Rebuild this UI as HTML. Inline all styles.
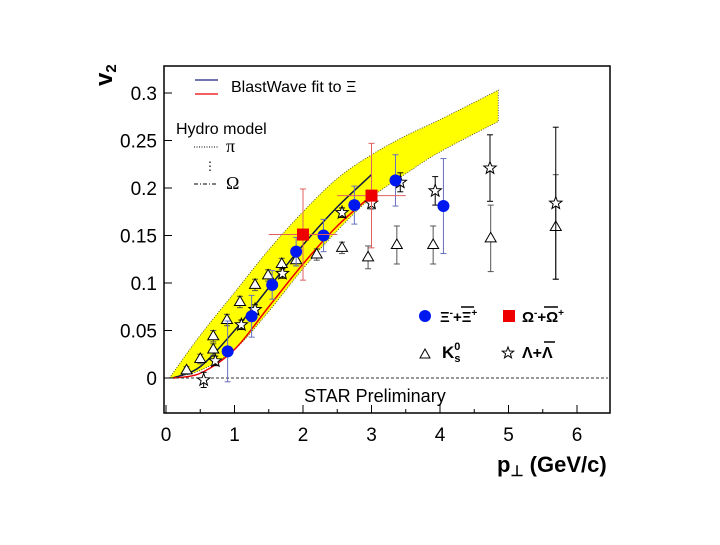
<!DOCTYPE html>
<html><head><meta charset="utf-8"><style>
body{margin:0;background:#fff;width:720px;height:540px;overflow:hidden;font-family:"Liberation Sans",sans-serif}
</style></head><body>
<svg id="c" width="720" height="540" xmlns="http://www.w3.org/2000/svg" font-family="Liberation Sans, sans-serif">
<rect x="164" y="66" width="446" height="347" fill="none" stroke="#000" stroke-width="1.5"/>
<g id="band"></g><g id="lines"></g><g id="pts"></g><g id="axes"></g>
<text x="92" y="90" font-size="24" font-weight="bold" transform="rotate(-90 100 78)">v<tspan font-size="15" dy="4">2</tspan></text>
<text x="497" y="472" font-size="22" font-weight="bold">p<tspan font-size="15" dy="4">⊥</tspan><tspan dy="-4"> (GeV/c)</tspan></text>
<g>
<line x1="195" y1="80" x2="218" y2="80" stroke="#1a237e" stroke-width="1.3"/>
<line x1="195" y1="94" x2="218" y2="94" stroke="#e00" stroke-width="1.3"/>
<text x="231" y="92" font-size="16">BlastWave fit to Ξ</text></g>
<g>
<text x="176" y="134" font-size="16">Hydro model</text>
<line x1="194" y1="147" x2="218" y2="147" stroke="#000" stroke-dasharray="1,1.5"/>
<text x="226" y="152" font-size="18" font-family="Liberation Serif, serif">π</text>
<text x="204" y="170" font-size="12">⋮</text>
<line x1="194" y1="184" x2="218" y2="184" stroke="#000" stroke-dasharray="4,2,1,2"/>
<text x="226" y="189" font-size="18" font-family="Liberation Serif, serif">Ω</text></g>
<g>
<circle cx="425" cy="316" r="6" fill="#0018f0"/>
<text x="440" y="322" font-size="15" font-weight="bold">Ξ<tspan font-size="10" dy="-6">-</tspan><tspan dy="6">+Ξ</tspan><tspan font-size="10" dy="-6">+</tspan></text>
<line x1="461" y1="307" x2="474" y2="307" stroke="#000" stroke-width="1.5"/>
<rect x="503" y="310" width="12" height="12" fill="#e00"/>
<text x="522" y="322" font-size="15" font-weight="bold">Ω<tspan font-size="10" dy="-6">-</tspan><tspan dy="6">+Ω</tspan><tspan font-size="10" dy="-6">+</tspan></text>
<line x1="544" y1="307" x2="558" y2="307" stroke="#000" stroke-width="1.5"/>
<path d="M425,349 l5,9 h-10z" fill="#fff" stroke="#000"/>
<text x="442" y="358" font-size="17" font-weight="bold">K<tspan font-size="11" dy="-8">0</tspan><tspan font-size="11" dx="-6" dy="12">s</tspan></text>
<path id="legstar" fill="#fff" stroke="#000"/>
<text x="522" y="358" font-size="16" font-weight="bold">Λ+Λ</text>
<line x1="544" y1="342" x2="555" y2="342" stroke="#000" stroke-width="1.5"/></g>
<text x="304" y="402" font-size="18">STAR Preliminary</text>
</svg>
<script>
const xTicks=[0,1,2,3,4,5,6];
const yTicks=[0,0.05,0.1,0.15,0.2,0.25,0.3];
const yTickLabels=["0","0.05","0.1","0.15","0.2","0.25","0.3"];
const bandP=[0.05,0.5,1,1.5,2,2.5,3,3.5,4,4.85];
const bandUpper=[0,0.045,0.09,0.135,0.175,0.21,0.235,0.255,0.272,0.303];
const bandLower=[0,0.008,0.03,0.07,0.115,0.155,0.19,0.215,0.238,0.27];
const bwP=[0.1,0.5,1,1.5,2,2.5,3];
const bwBlue=[0,0.012,0.05,0.095,0.14,0.18,0.214];
const bwRed=[0,0.005,0.03,0.075,0.12,0.16,0.192];
const xiP=[0.9,1.25,1.55,1.9,2.3,2.75,3.35,4.05];
const xiV=[0.028,0.065,0.098,0.133,0.15,0.182,0.208,0.181];
const xiE=[0.032,0.022,0.015,0.015,0.017,0.02,0.027,0.05];
const omP=[2.0,3.0];
const omV=[0.151,0.192];
const omE=[0.048,0.055];
const k0P=[0.3,0.5,0.69,0.69,0.89,1.08,1.3,1.49,1.69,1.9,2.2,2.57,2.95,3.37,3.9,4.74,5.69];
const k0V=[0.008,0.02,0.03,0.044,0.061,0.08,0.098,0.108,0.12,0.124,0.13,0.137,0.127,0.14,0.14,0.147,0.159];
const k0E=[0.004,0.005,0.006,0.006,0.006,0.006,0.006,0.006,0.006,0.006,0.006,0.006,0.012,0.02,0.02,0.035,0.055];
const laP=[0.55,0.72,1.1,1.3,1.7,2.57,3.0,3.42,3.93,4.73,5.69];
const laV=[-0.002,0.018,0.056,0.072,0.11,0.174,0.184,0.206,0.197,0.221,0.184];
const laE=[0.008,0.005,0.005,0.005,0.005,0.005,0.006,0.01,0.015,0.035,0.08];
const X=p=>166+68.5*p, Y=v=>378-950*v;
const NS="http://www.w3.org/2000/svg";
function mk(t,a,parent){const e=document.createElementNS(NS,t);for(const k in a)e.setAttribute(k,a[k]);(parent.appendChild?parent:document.getElementById(parent)).appendChild(e);return e;}
function smooth(pts){let d="";for(let i=0;i<pts.length-1;i++){const p0=pts[Math.max(i-1,0)],p1=pts[i],p2=pts[i+1],p3=pts[Math.min(i+2,pts.length-1)];
if(i===0)d+="M"+p1[0]+","+p1[1];
d+=`C${p1[0]+(p2[0]-p0[0])/6},${p1[1]+(p2[1]-p0[1])/6} ${p2[0]-(p3[0]-p1[0])/6},${p2[1]-(p3[1]-p1[1])/6} ${p2[0]},${p2[1]}`;}return d;}
function starPath(cx,cy,R){let d="";for(let k=0;k<10;k++){const r=k%2?R*0.42:R,a=-Math.PI/2+k*Math.PI/5;d+=(k?"L":"M")+(cx+r*Math.cos(a)).toFixed(2)+","+(cy+r*Math.sin(a)).toFixed(2);}return d+"Z";}
document.getElementById("legstar").setAttribute("d",starPath(508,353,6));
const up=bandP.map((p,i)=>[X(p),Y(bandUpper[i])]);
const lo=bandP.map((p,i)=>[X(p),Y(bandLower[i])]).reverse();
let d=smooth(up)+"L"+smooth(lo).slice(1)+"Z";
let b=mk("path",{d:d,fill:"#ffff00",stroke:"#333","stroke-width":0.8,"stroke-dasharray":"1,1.5"},"band");


let l1=mk("path",{d:smooth(bwP.map((p,i)=>[X(p),Y(bwBlue[i])])),fill:"none",stroke:"#111a40","stroke-width":1.5},"lines");


let l2=mk("path",{d:smooth(bwP.map((p,i)=>[X(p),Y(bwRed[i])])),fill:"none",stroke:"#e00","stroke-width":1.5},"lines");


let z=mk("line",{x1:166,x2:608,y1:Y(0),y2:Y(0),stroke:"#333","stroke-dasharray":"3,2"},"lines");


function err(p,v,e,col,nm){const g=mk("line",{x1:X(p),x2:X(p),y1:Y(v+e),y2:Y(v-e),stroke:col,"stroke-width":1},"pts");


[v+e,v-e].forEach(w=>mk("line",{x1:X(p)-3,x2:X(p)+3,y1:Y(w),y2:Y(w),stroke:col},"pts"));}
k0P.forEach((p,i)=>{err(p,k0V[i],k0E[i],"#555","k0-error");
const t=mk("path",{d:`M${X(p)},${Y(k0V[i])-6}l5.5,9.5h-11z`,fill:"#fff",stroke:"#000"},"pts");

});
laP.forEach((p,i)=>{err(p,laV[i],laE[i],"#000","lambda-error");
const s=mk("path",{d:starPath(X(p),Y(laV[i]),6.5),fill:"#fff",stroke:"#000"},"pts");

});
xiP.forEach((p,i)=>{err(p,xiV[i],xiE[i],"#6670c0","xi-error");
const c=mk("circle",{cx:X(p),cy:Y(xiV[i]),r:6,fill:"#0018f0"},"pts");

});
omP.forEach((p,i)=>{err(p,omV[i],omE[i],"#e06060","omega-error");
mk("line",{x1:X(p-0.5),x2:X(p+0.5),y1:Y(omV[i]),y2:Y(omV[i]),stroke:"#e06060"},"pts");
const r=mk("rect",{x:X(p)-6,y:Y(omV[i])-6,width:12,height:12,fill:"#e00"},"pts");

});
xTicks.forEach(t=>{mk("line",{x1:X(t),x2:X(t),y1:413,y2:405,stroke:"#000"},"axes");
if(t<6)mk("line",{x1:X(t+0.5),x2:X(t+0.5),y1:413,y2:409,stroke:"#000"},"axes");
const e=mk("text",{x:X(t),y:441,"font-size":19,"text-anchor":"middle"},"axes");e.textContent=t;

});
yTicks.forEach((t,i)=>{mk("line",{x1:164,x2:172,y1:Y(t),y2:Y(t),stroke:"#000"},"axes");
const e=mk("text",{x:157,y:Y(t)+7,"font-size":19,"text-anchor":"end"},"axes");e.textContent=yTickLabels[i];

});
</script>
</body></html>
